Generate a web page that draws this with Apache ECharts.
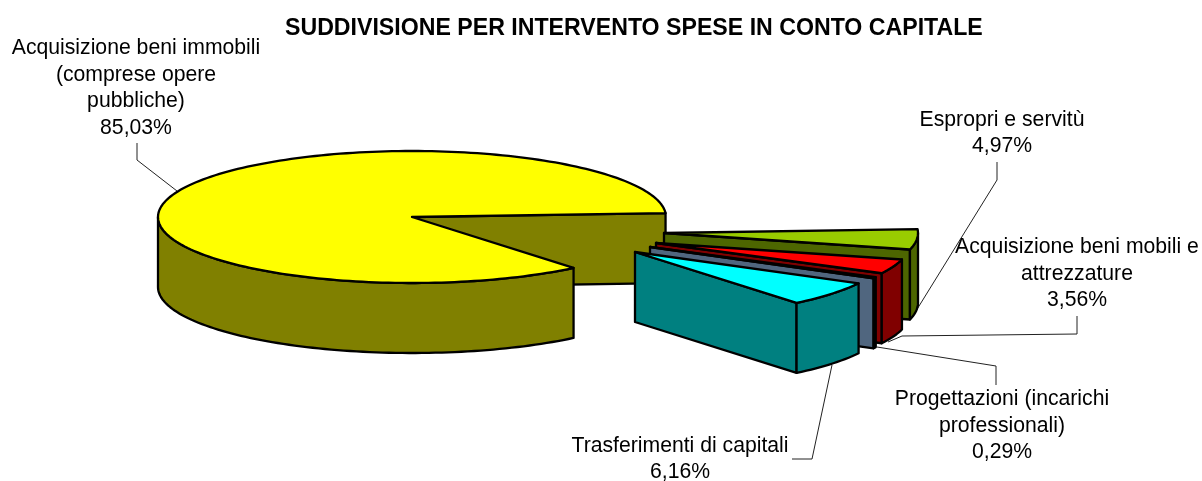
<!DOCTYPE html>
<html>
<head>
<meta charset="utf-8">
<style>
    html, body { margin: 0; padding: 0; background: #fff; }
    #main { width: 1202px; height: 481px; }
</style>
<script src="https://cdn.jsdelivr.net/npm/echarts@6/dist/echarts.min.js"></script>
</head>
<body>
<div id="main"></div>
<script>
// data, clockwise from the cut edge of the big slice
const categories = [
    'Acquisizione beni immobili\n(comprese opere\npubbliche)',
    'Espropri e servitù',
    'Acquisizione beni mobili e\nattrezzature',
    'Progettazioni (incarichi\nprofessionali)',
    'Trasferimenti di capitali'
];
const shares = [85.03, 4.97, 3.56, 0.29, 6.16];

// slice colours
const topColors = ['#ffff00', '#99cc00', '#ff0000', '#6688aa', '#00ffff'];
const sideColors = ['#808000', '#4d6600', '#800000', '#50667f', '#008080'];

// layout of the tilted pie
const cx = 412, cy = 217, rx = 254, ry = 66, depth = 70;
const startAngle = -50.5;
const explode = [[0, 0], [252, 16], [244, 26], [238, 30], [223, 35]];
const labelPos = [[136, 88], [1002, 133], [1077, 274], [1002, 426], [680, 459]];
const leaders = [
    [[137, 143], [137, 160], [177, 191]],
    [[997, 162], [997, 180], [911, 319]],
    [[1077, 316], [1077, 334], [902, 336], [888, 342]],
    [[996, 385], [996, 366], [877, 347]],
    [[792, 459], [812, 459], [832, 365]]
];

const total = shares.reduce((a, b) => a + b, 0);

function arc(x0, y0, from, to) {
    const pts = [];
    const n = Math.max(2, Math.ceil(Math.abs(from - to) / 1.5));
    for (let i = 0; i <= n; i++) {
        const t = (from + (to - from) * i / n) * Math.PI / 180;
        pts.push([x0 + rx * Math.cos(t), y0 - ry * Math.sin(t)]);
    }
    return pts;
}

function poly(points, fill) {
    return {
        type: 'polygon',
        shape: { points: points },
        style: { fill: fill, stroke: '#000', lineWidth: 2.3, lineJoin: 'round' }
    };
}

function renderSlice(params, api) {
    const i = params.dataIndex;
    let before = 0;
    for (let k = 0; k < i; k++) before += shares[k];
    let from = startAngle - before / total * 360;
    if (from < -180) from += 360;
    const to = from - api.value(0) / total * 360;
    const x0 = cx + explode[i][0];
    const y0 = cy + explode[i][1];
    const children = [];

    children.push({
        type: 'polyline',
        shape: { points: leaders[i] },
        style: { fill: null, stroke: '#222', lineWidth: 1 }
    });

    // cut face at the clockwise end, it looks towards the viewer
    const e = arc(x0, y0, to, to)[0];
    children.push(poly([[x0, y0], e, [e[0], e[1] + depth], [x0, y0 + depth]], sideColors[i]));

    // outer wall, only the part on the front half
    const a = Math.min(from, 0);
    const b = Math.max(to, -180);
    if (a > b) {
        const upper = arc(x0, y0, a, b);
        const lower = upper.map(p => [p[0], p[1] + depth]).reverse();
        children.push(poly(upper.concat(lower), sideColors[i]));
    }

    // top
    children.push(poly([[x0, y0]].concat(arc(x0, y0, from, to)), topColors[i]));

    children.push({
        type: 'text',
        style: {
            text: categories[i] + '\n' + api.value(0).toFixed(2).replace('.', ',') + '%',
            x: labelPos[i][0],
            y: labelPos[i][1],
            align: 'center',
            verticalAlign: 'middle',
            font: '21.2px "Liberation Sans", Arial, sans-serif',
            lineHeight: 26.5,
            fill: '#000'
        }
    });
    return { type: 'group', children: children };
}

const myChart = echarts.init(document.getElementById('main'), null, { renderer: 'canvas' });
myChart.setOption({
    animation: false,
    backgroundColor: '#fff',
    title: {
        text: 'SUDDIVISIONE PER INTERVENTO SPESE IN CONTO CAPITALE',
        left: 285,
        top: 17,
        padding: 0,
        textStyle: { fontFamily: '"Liberation Sans", Arial, sans-serif', fontWeight: 'bold', fontSize: 23.15, color: '#000' }
    },
    series: [{
        type: 'custom',
        coordinateSystem: 'none',
        silent: true,
        renderItem: renderSlice,
        data: shares
    }]
});
</script>
</body>
</html>
